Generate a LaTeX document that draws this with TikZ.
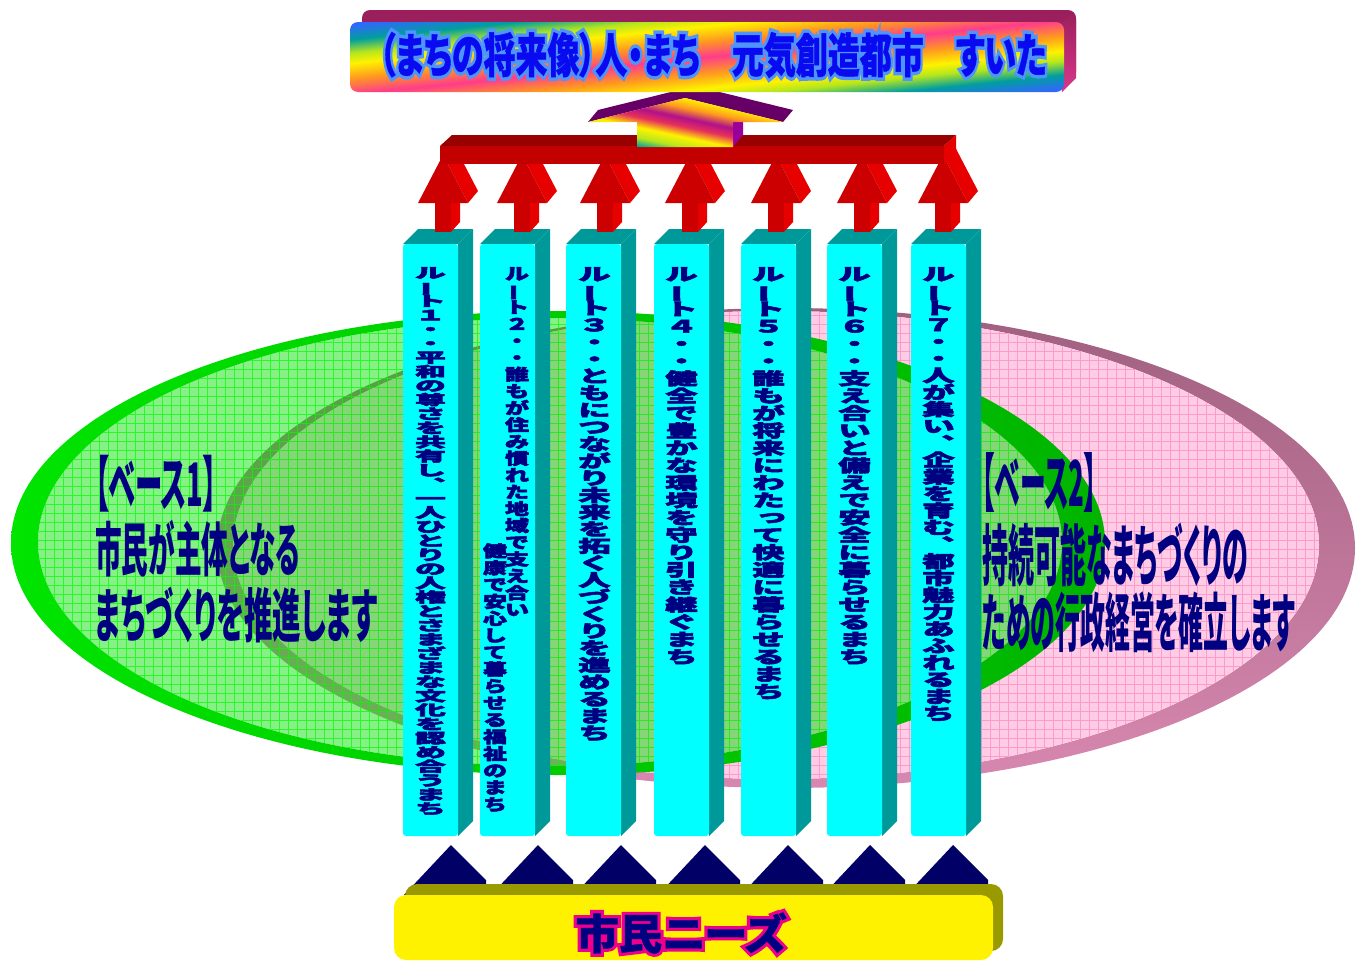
\documentclass[tikz,border=0pt]{standalone}
\usepackage{fontspec}
\usepackage{graphicx}
\usetikzlibrary{calc}
\newfontfamily\jp{Noto Sans CJK JP}[BoldFeatures={FakeBold=3}]
\newfontfamily\jpp{Noto Sans CJK JP}[RawFeature=+palt]
\newfontfamily\jph{Noto Sans CJK JP}[RawFeature=+palt, BoldFeatures={FakeBold=1}]
\newfontfamily\jpo{Noto Sans CJK JP}[RawFeature=+palt, BoldFeatures={FakeBold=16}]
\definecolor{navy}{HTML}{000080}
\definecolor{colfront}{HTML}{00FFFF}
\definecolor{colside}{HTML}{009999}
\definecolor{redfront}{HTML}{CC0000}
\definecolor{redside}{HTML}{E60000}
\definecolor{bartop}{HTML}{990000}
\definecolor{barfront}{HTML}{C20000}
\definecolor{purp}{HTML}{660066}
\definecolor{purpside}{HTML}{990099}
\definecolor{rimtop}{HTML}{9B1F5C}
\definecolor{rimside}{HTML}{D8388A}
\definecolor{tri}{HTML}{000066}
\definecolor{olive}{HTML}{999900}
\definecolor{bnblue}{HTML}{0A0AF0}
\definecolor{bnout}{HTML}{4D94FF}
\definecolor{pinkface}{HTML}{FFCCE6}
\definecolor{pinkgrid}{HTML}{FF9ACD}
\definecolor{pinkrimA}{HTML}{A0607F}
\definecolor{pinkrimB}{HTML}{D888B0}
\definecolor{grnrimA}{HTML}{00E400}
\definecolor{grnrimB}{HTML}{00B400}
\definecolor{grnface}{HTML}{00E000}
\definecolor{grngrid}{HTML}{00FF00}
\definecolor{rbBlue}{HTML}{3366FF}
\definecolor{rbTeal}{HTML}{009E9E}
\definecolor{rbLime}{HTML}{B4E61E}
\definecolor{rbYel}{HTML}{FFF200}
\definecolor{rbOra}{HTML}{FF9A1E}
\definecolor{rbPink}{HTML}{FF3C8C}
\definecolor{rbMag}{HTML}{B0108C}
\definecolor{rbRed}{HTML}{E8305A}
\pgfdeclarehorizontalshading{bannershade}{100bp}{color(0bp)=(rbBlue); color(45.27bp)=(rbBlue); color(46.3bp)=(rbTeal); color(47.2bp)=(rbLime); color(47.9bp)=(rbYel); color(48.9bp)=(rbOra); color(50bp)=(rbPink); color(51.1bp)=(rbOra); color(52.1bp)=(rbYel); color(52.8bp)=(rbLime); color(53.7bp)=(rbTeal); color(54.73bp)=(rbBlue); color(100bp)=(rbBlue)}
\pgfdeclarehorizontalshading{arrowshade}{100bp}{color(0bp)=(rbYel); color(44.5bp)=(rbYel); color(46.8bp)=(rbOra); color(49.1bp)=(rbMag); color(51.1bp)=(rbRed); color(53.4bp)=(rbYel); color(55.7bp)=(rbLime); color(57.7bp)=(rbTeal); color(100bp)=(rbTeal)}
% vertical text stacking
\newdimen\vcw \vcw=60pt
\def\vtextend{VTEXTEND}
\def\vcsx{1}
\newcommand\vglyph[1]{\ifx#1ー\rotatebox[origin=c]{90}{ー}\else\ifx#1、︑\else\ifx#1っ\makebox[1em][l]{\kern0.1em\raisebox{0.1em}{っ}}\else#1\fi\fi\fi}
\newcommand\vcell[1]{\hbox to\vcw{\hss\scalebox{\vcsx}[1]{\vglyph{#1}}\hss}}
\def\vtextloop#1{\ifx#1\vtextend\else\vcell{#1}\expandafter\vtextloop\fi}
\newcommand\vtext[4]{\vbox{\jp\bfseries\fontsize{#2}{#1}\selectfont
  \baselineskip=#1\relax\lineskiplimit=-100pt\lineskip=0pt
  \def\vcsx{#3}\vtextloop#4\vtextend}}
\newcommand\bannertext[1]{\resizebox*{667pt}{46pt}{#1\bfseries （まちの将来像）人・まち　元気創造都市　すいた}}
\newcommand\needstext[1]{\resizebox*{211pt}{41pt}{#1\bfseries 市民ニーズ}}
\tikzset{txt/.style={inner sep=0pt, text=navy}}
\begin{document}
\begin{tikzpicture}[x=1pt,y=-1pt]
\useasboundingbox (0,0) rectangle (1358,961);
% ---- pink disc (base 2)
\shade[even odd rule, top color=pinkrimA, bottom color=pinkrimB] (786,548) ellipse [x radius=569, y radius=240] (776,545) ellipse [x radius=543, y radius=234];
\fill[pinkface] (776,545) ellipse [x radius=543, y radius=234];
\begin{scope}
 \clip (776,545) ellipse [x radius=543, y radius=234];
 \draw[pinkgrid, line width=0.6pt, step=9pt] (225,783) grid (1323,306);
\end{scope}
% ---- green disc (base 1)
\shade[even odd rule, left color=grnrimA, right color=grnrimB] (558,543) ellipse [x radius=547, y radius=232] (550,542) ellipse [x radius=512, y radius=224];
\fill[grnface, fill opacity=0.47] (550,542) ellipse [x radius=512, y radius=224];
\begin{scope}
 \clip (550,542) ellipse [x radius=512, y radius=224];
 \draw[grngrid, line width=0.6pt, step=9pt, opacity=0.7] (36,770) grid (1065,315);
\end{scope}
% ---- columns
\foreach \L in {403,480,566,654,741,827,911}{
  \pgfmathsetmacro\R{\L+55}
  \fill[colside] (\R,244) -- (\R+15,229) -- (\R+15,821) -- (\R,836) -- cycle;
  \fill[colside] (\L,244) -- (\L+15,229) -- (\R+15,229) -- (\R,244) -- cycle;
  \fill[colfront, rounded corners=3] (\L,244) rectangle (\R,836);
}
% ---- red arrows
\foreach \c in {443,522,605,690,776,862,943}{
  \fill[redside] (\c+8,203) -- (\c+17,193) -- (\c+17,222) -- (\c+8,232) -- cycle;
  \fill[redfront] (\c-8,200) rectangle (\c+8,232);
  \fill[redside] (\c+25,203) -- (\c+35,191) -- (\c+10,143) -- (\c,155) -- cycle;
  \fill[redfront] (\c-25,203) -- (\c,155) -- (\c+25,203) -- cycle;
}
% ---- red bar
\fill[bartop] (440,146) -- (452,135) -- (956,135) -- (944,146) -- cycle;
\fill[redside] (944,146) -- (956,135) -- (956,153) -- (944,164) -- cycle;
\fill[barfront] (440,146) rectangle (944,164);
% ---- rainbow arrow
\fill[purpside] (733,147) -- (743,135) -- (743,112) -- (733,122) -- cycle;
\fill[purp] (588,122) -- (598,110) -- (695,86) -- (793,110) -- (783,122) -- (685,98) -- cycle;
\begin{scope}
 \clip (588,122) -- (685,98) -- (783,122) -- (733,122) -- (733,147) -- (637,147) -- (637,122) -- cycle;
 \shade[shading=arrowshade, shading angle=-102] (575,12) rectangle (795,232);
\end{scope}
% ---- banner
\fill[rimtop, rounded corners=8] (362,10) rectangle (1076,80);
\shade[top color=rimtop, bottom color=rimside] (1058,26) -- (1072,12) -- (1076,20) -- (1076,78) -- (1062,92) -- cycle;
\begin{scope}
 \clip[rounded corners=8] (350,22) rectangle (1064,92);
 \shade[shading=bannershade, shading angle=-84] (337,-313) rectangle (1077,427);
\end{scope}
\node[inner sep=0pt, text=bnout] (titleline) at (713,55) {\bannertext{\jpo}};
\node[inner sep=0pt, text=bnblue] (title) at (713,55) {\bannertext{\jph}};
% ---- column texts
\node[txt, anchor=north] (r1) at (430.5,267) {\vtext{14.1pt}{14pt}{2.2}{ルート１・・平和の尊さを共有し、一人ひとりの人権とさまざまな文化を認め合うまち}};
\node[txt, anchor=north] (r2a) at (517,267) {\vtext{16.8pt}{16pt}{1.5}{ルート２・・誰もが住み慣れた地域で支え合い}};
\node[txt, anchor=north] (r2b) at (495,543) {\vtext{16.9pt}{16pt}{1.5}{健康で安心して暮らせる福祉のまち}};
\node[txt, anchor=north] (r3) at (594.5,267) {\vtext{17pt}{17pt}{1.9}{ルート３・・ともにつながり未来を拓く人づくりを進めるまち}};
\node[txt, anchor=north] (r4) at (681.5,267) {\vtext{17.4pt}{17pt}{1.9}{ルート４・・健全で豊かな環境を守り引き継ぐまち}};
\node[txt, anchor=north] (r5) at (768.5,267) {\vtext{17.4pt}{17pt}{1.9}{ルート５・・誰もが将来にわたって快適に暮らせるまち}};
\node[txt, anchor=north] (r6) at (854.5,267) {\vtext{17.4pt}{17pt}{1.9}{ルート６・・支え合いと備えで安全に暮らせるまち}};
\node[txt, anchor=north] (r7) at (938.5,267) {\vtext{16.9pt}{17pt}{1.9}{ルート７・・人が集い、企業を育む、都市魅力あふれるまち}};
% ---- base texts
\node[txt, anchor=west] (b1a) at (95,483.5) {\resizebox*{122pt}{57pt}{\jpp\bfseries 【ベース1】}};
\node[txt, anchor=west] (b1b) at (95,548.5) {\resizebox*{205pt}{57pt}{\jpp\bfseries 市民が主体となる}};
\node[txt, anchor=west] (b1c) at (95,614.5) {\resizebox*{282pt}{56pt}{\jpp\bfseries まちづくりを推進します}};
\node[txt, anchor=west] (b2a) at (982,482) {\resizebox*{115pt}{60pt}{\jpp\bfseries 【ベース2】}};
\node[txt, anchor=west] (b2b) at (982,555) {\resizebox*{266pt}{64pt}{\jpp\bfseries 持続可能なまちづくりの}};
\node[txt, anchor=west] (b2c) at (982,622.5) {\resizebox*{313pt}{61pt}{\jpp\bfseries ための行政経営を確立します}};
% ---- navy triangles
\foreach \a in {451,538,621,705,788,870,953}{
  \fill[tri] (\a-47,895) -- (\a,845) -- (\a+35,880) -- (\a+35,895) -- cycle;
}
% ---- yellow box
\fill[olive, rounded corners=12] (405,884) rectangle (1003,951);
\fill[yellow, rounded corners=12] (394,895) rectangle (993,960);
\node[inner sep=0pt, text=magenta] (needsline) at (681,933) {\needstext{\jpo}};
\node[txt] (needs) at (681,933) {\needstext{\jph}};
\end{tikzpicture}
\end{document}
